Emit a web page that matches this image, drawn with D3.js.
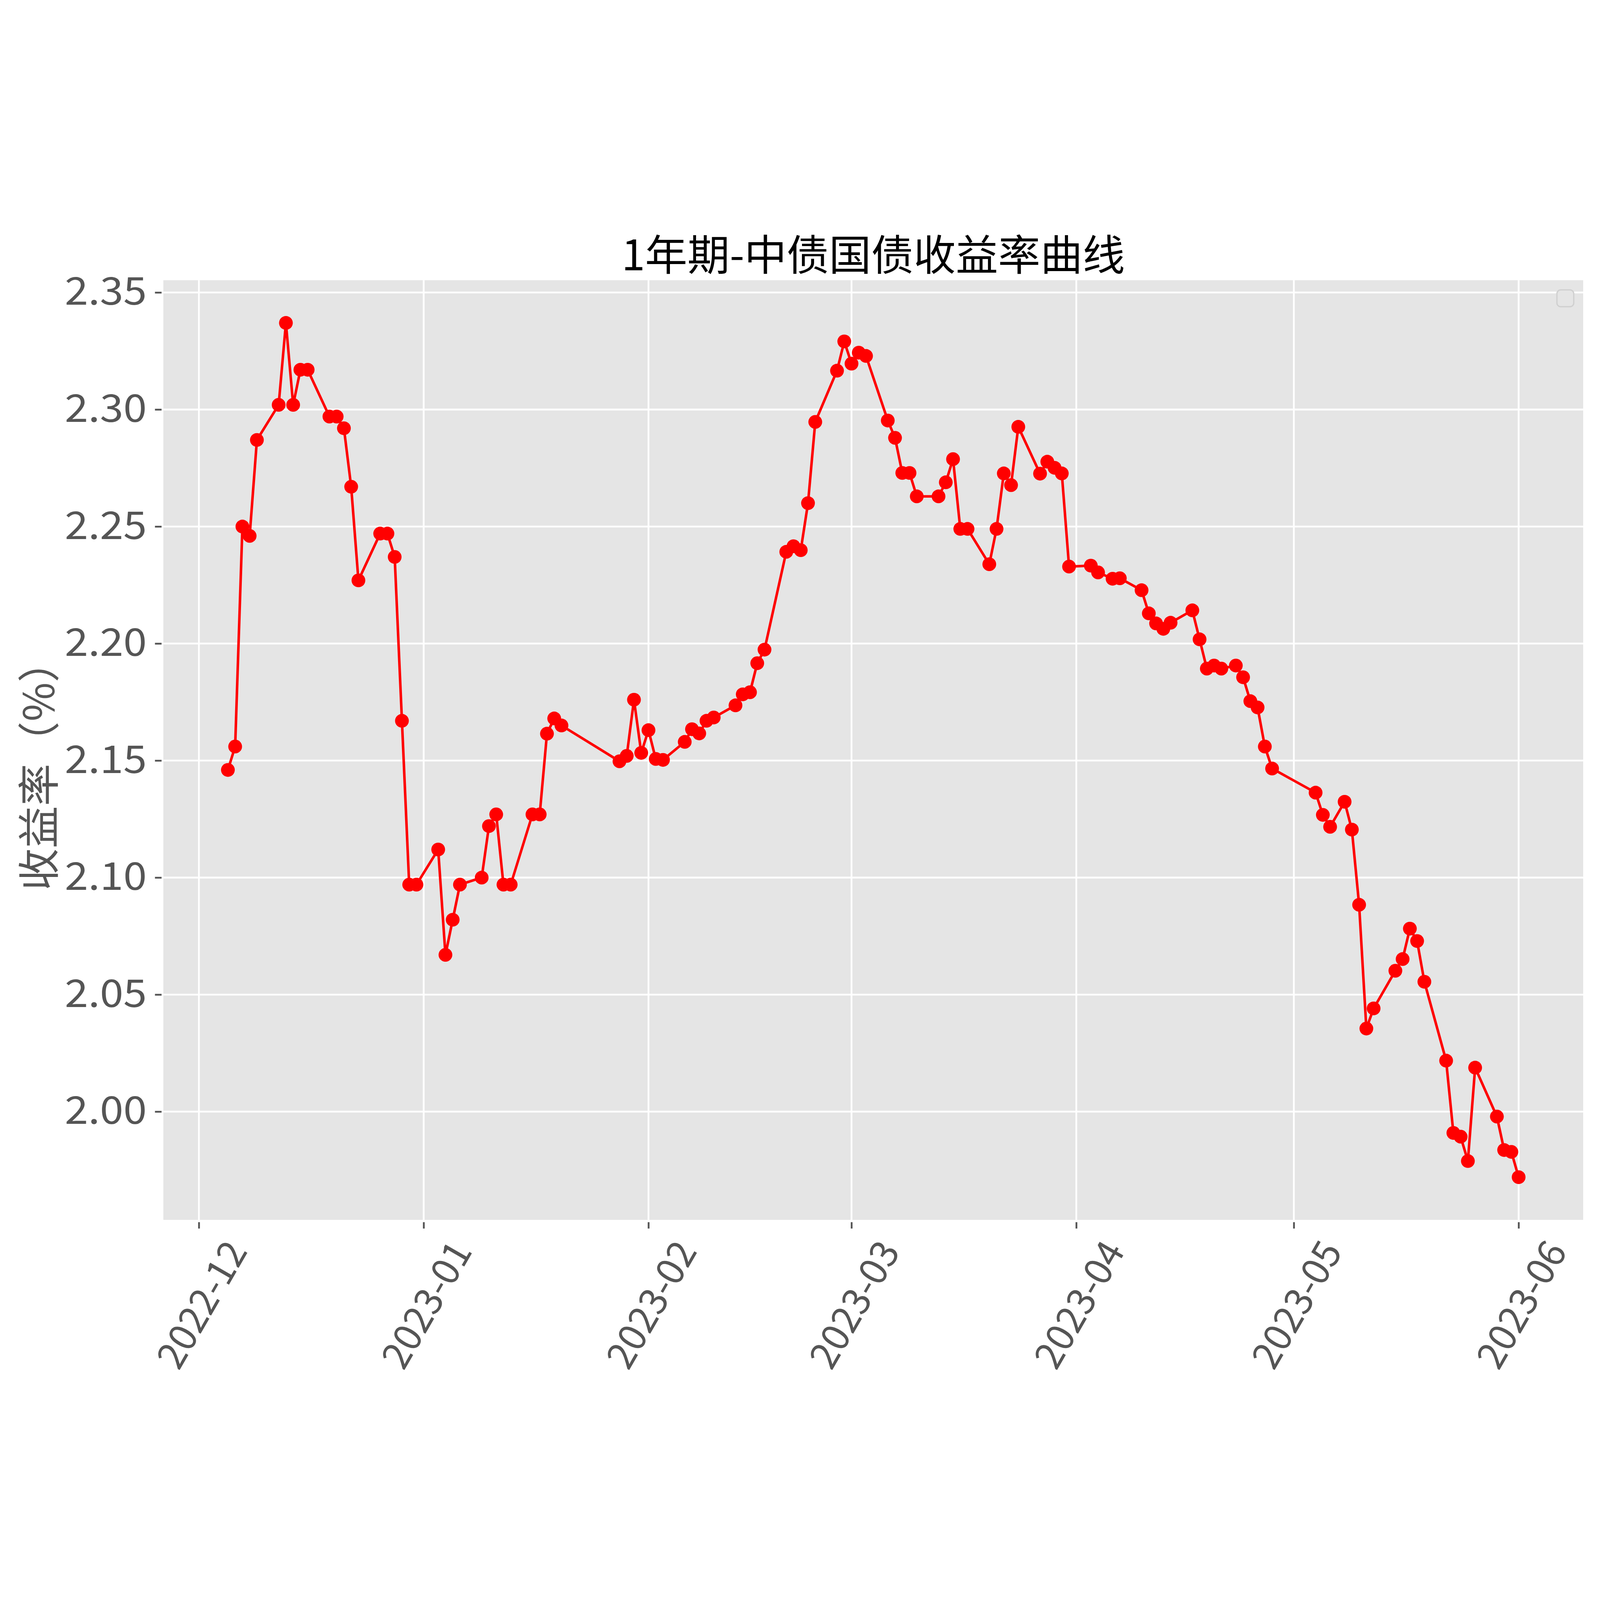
<!DOCTYPE html>
<html>
<head>
<meta charset="utf-8">
<script src="https://cdn.jsdelivr.net/npm/d3@7"></script>
<style>
  html, body { margin: 0; padding: 0; width: 100%; height: 100%; overflow: hidden; background: #fff; }
  .canvas { width: 100vw; height: 100vh; }
  text { font-family: "Noto Sans CJK SC", "Noto Sans", sans-serif; }
</style>
</head>
<body>
<div class="canvas"></div>
<script>
// trading days and 1y yields
const dates = [
  '2022-12-05','2022-12-06','2022-12-07','2022-12-08','2022-12-09',
  '2022-12-12','2022-12-13','2022-12-14','2022-12-15','2022-12-16',
  '2022-12-19','2022-12-20','2022-12-21','2022-12-22','2022-12-23',
  '2022-12-26','2022-12-27','2022-12-28','2022-12-29','2022-12-30','2022-12-31',
  '2023-01-03','2023-01-04','2023-01-05','2023-01-06',
  '2023-01-09','2023-01-10','2023-01-11','2023-01-12','2023-01-13',
  '2023-01-16','2023-01-17','2023-01-18','2023-01-19','2023-01-20',
  '2023-01-28','2023-01-29','2023-01-30','2023-01-31',
  '2023-02-01','2023-02-02','2023-02-03',
  '2023-02-06','2023-02-07','2023-02-08','2023-02-09','2023-02-10',
  '2023-02-13','2023-02-14','2023-02-15','2023-02-16','2023-02-17',
  '2023-02-20','2023-02-21','2023-02-22','2023-02-23','2023-02-24',
  '2023-02-27','2023-02-28','2023-03-01','2023-03-02','2023-03-03',
  '2023-03-06','2023-03-07','2023-03-08','2023-03-09','2023-03-10',
  '2023-03-13','2023-03-14','2023-03-15','2023-03-16','2023-03-17',
  '2023-03-20','2023-03-21','2023-03-22','2023-03-23','2023-03-24',
  '2023-03-27','2023-03-28','2023-03-29','2023-03-30','2023-03-31',
  '2023-04-03','2023-04-04','2023-04-06','2023-04-07',
  '2023-04-10','2023-04-11','2023-04-12','2023-04-13','2023-04-14',
  '2023-04-17','2023-04-18','2023-04-19','2023-04-20','2023-04-21',
  '2023-04-23','2023-04-24','2023-04-25','2023-04-26','2023-04-27','2023-04-28',
  '2023-05-04','2023-05-05','2023-05-06',
  '2023-05-08','2023-05-09','2023-05-10','2023-05-11','2023-05-12',
  '2023-05-15','2023-05-16','2023-05-17','2023-05-18','2023-05-19',
  '2023-05-22','2023-05-23','2023-05-24','2023-05-25','2023-05-26',
  '2023-05-29','2023-05-30','2023-05-31','2023-06-01'
];

const yields = [
  2.146, 2.156, 2.250, 2.246, 2.287,
  2.302, 2.337, 2.302, 2.317, 2.317,
  2.297, 2.297, 2.292, 2.267, 2.227,
  2.247, 2.247, 2.237, 2.167, 2.097, 2.097,
  2.112, 2.067, 2.082, 2.097,
  2.100, 2.122, 2.127, 2.097, 2.097,
  2.127, 2.127, 2.1615, 2.168, 2.165,
  2.1497, 2.152, 2.176, 2.1533,
  2.163, 2.1507, 2.1503,
  2.158, 2.1634, 2.1616, 2.167, 2.1684,
  2.1736, 2.1783, 2.1792, 2.1916, 2.1974,
  2.2392, 2.2416, 2.2399, 2.260, 2.2947,
  2.3166, 2.3291, 2.3196, 2.3243, 2.3229,
  2.2953, 2.2879, 2.2729, 2.2729, 2.2629,
  2.2629, 2.2689, 2.2788, 2.249, 2.249,
  2.2339, 2.249, 2.2727, 2.2677, 2.2926,
  2.2726, 2.2777, 2.2751, 2.2727, 2.2329,
  2.2333, 2.2304, 2.2277, 2.2279,
  2.2228, 2.2129, 2.2086, 2.2063, 2.2089,
  2.2142, 2.2018, 2.1893, 2.1906, 2.1893,
  2.1906, 2.1856, 2.1754, 2.1727, 2.156, 2.1466,
  2.1363, 2.1268, 2.1217,
  2.1324, 2.1205, 2.0884, 2.0355, 2.0441,
  2.0602, 2.0652, 2.0782, 2.0729, 2.0555,
  2.0218, 1.9909, 1.9893, 1.9789, 2.0188,
  1.9979, 1.9836, 1.9828, 1.972
];

const yTicks = [2.00, 2.05, 2.10, 2.15, 2.20, 2.25, 2.30, 2.35];
const titleText = '1年期-中债国债收益率曲线';
const yLabelText = '收益率（%）';

// canvas & plot box
const width = 6278;
const height = 4573;
const margin = { top: 247, right: 66, bottom: 639, left: 641 };
const graphWidth = width - margin.left - margin.right;
const graphHeight = height - margin.top - margin.bottom;

const parse = d3.timeParse('%Y-%m-%d');
const data = dates.map((d, i) => ({ date: parse(d), value: yields[i] }));

// scale the drawing to whatever viewport the page gets
const svg = d3.select('.canvas')
    .append('svg')
    .attr('viewBox', `0 0 ${width} ${height}`)
    .attr('preserveAspectRatio', 'xMidYMid meet')
    .attr('width', '100%')
    .attr('height', '100%')
    .style('display', 'block');

svg.append('rect')
    .attr('width', width)
    .attr('height', height)
    .attr('fill', '#ffffff');

const graph = svg.append('g')
    .attr('transform', `translate(${margin.left}, ${margin.top})`);

// scales with 5% auto margins, like matplotlib
const [t0, t1] = d3.extent(data, d => d.date);
const tPad = (t1 - t0) * 0.05;
const x = d3.scaleTime()
    .domain([new Date(+t0 - tPad), new Date(+t1 + tPad)])
    .range([0, graphWidth]);

const [v0, v1] = d3.extent(data, d => d.value);
const vPad = (v1 - v0) * 0.05;
const y = d3.scaleLinear()
    .domain([v0 - vPad, v1 + vPad])
    .range([graphHeight, 0]);

const monthTicks = x.ticks(d3.timeMonth.every(1));

// background & grid
graph.append('rect')
    .attr('width', graphWidth)
    .attr('height', graphHeight)
    .attr('fill', '#e5e5e5');

graph.append('g')
    .selectAll('line')
    .data(monthTicks)
    .enter()
    .append('line')
    .attr('x1', d => x(d))
    .attr('x2', d => x(d))
    .attr('y1', 0)
    .attr('y2', graphHeight)
    .attr('stroke', '#ffffff')
    .attr('stroke-width', 7);

graph.append('g')
    .selectAll('line')
    .data(yTicks)
    .enter()
    .append('line')
    .attr('x1', 0)
    .attr('x2', graphWidth)
    .attr('y1', d => y(d))
    .attr('y2', d => y(d))
    .attr('stroke', '#ffffff')
    .attr('stroke-width', 7);

// axes
const tickFont = 150;

const yAxis = d3.axisLeft(y)
    .tickValues(yTicks)
    .tickSize(26)
    .tickPadding(32)
    .tickFormat(d3.format('.2f'));

const yAxisGroup = graph.append('g')
    .attr('transform', 'translate(-7, 0)')
    .call(yAxis);

yAxisGroup.select('.domain').remove();
yAxisGroup.selectAll('line')
    .attr('stroke', '#555555')
    .attr('stroke-width', 7);
yAxisGroup.selectAll('text')
    .attr('fill', '#555555')
    .attr('font-size', tickFont)
    .attr('font-family', '"Noto Sans CJK SC", sans-serif')
    .attr('textLength', 322)
    .attr('lengthAdjust', 'spacingAndGlyphs');

const xAxis = d3.axisBottom(x)
    .tickValues(monthTicks)
    .tickSize(25)
    .tickFormat(d3.timeFormat('%Y-%m'));

const xAxisGroup = graph.append('g')
    .attr('transform', `translate(0, ${graphHeight + 9})`)
    .call(xAxis);

xAxisGroup.select('.domain').remove();
xAxisGroup.selectAll('line')
    .attr('stroke', '#555555')
    .attr('stroke-width', 7);
xAxisGroup.selectAll('text')
    .attr('fill', '#555555')
    .attr('font-size', tickFont)
    .attr('font-family', '"Noto Sans CJK SC", sans-serif')
    .attr('y', 0)
    .attr('dy', null)
    .attr('text-anchor', 'middle')
    .attr('dominant-baseline', 'central')
    .attr('textLength', 545)
    .attr('lengthAdjust', 'spacingAndGlyphs')
    .attr('transform', 'translate(0, 317) rotate(-60)');

// line & markers
const line = d3.line()
    .x(d => x(d.date))
    .y(d => y(d.value));

graph.append('path')
    .datum(data)
    .attr('d', line)
    .attr('fill', 'none')
    .attr('stroke', '#ff0000')
    .attr('stroke-width', 10)
    .attr('stroke-linejoin', 'round');

graph.append('g')
    .selectAll('circle')
    .data(data)
    .enter()
    .append('circle')
    .attr('cx', d => x(d.date))
    .attr('cy', d => y(d.value))
    .attr('r', 27)
    .attr('fill', '#ff0000');

// empty legend frame in the corner
graph.append('rect')
    .attr('x', graphWidth - 103)
    .attr('y', 38)
    .attr('width', 66)
    .attr('height', 66)
    .attr('rx', 15)
    .attr('fill', '#e5e5e5')
    .attr('stroke', '#d0d0d0')
    .attr('stroke-width', 5);

// title & y label
svg.append('text')
    .attr('x', margin.left + graphWidth / 2)
    .attr('y', 135)
    .attr('text-anchor', 'middle')
    .attr('dominant-baseline', 'central')
    .attr('font-size', 166)
    .attr('fill', '#000000')
    .attr('textLength', 1975)
    .attr('lengthAdjust', 'spacingAndGlyphs')
    .text(titleText);

svg.append('text')
    .attr('transform', `translate(141, ${margin.top + graphHeight / 2 + 60}) rotate(-90)`)
    .attr('text-anchor', 'middle')
    .attr('dominant-baseline', 'central')
    .attr('font-size', 166)
    .attr('fill', '#555555')
    .text(yLabelText);
</script>
</body>
</html>
